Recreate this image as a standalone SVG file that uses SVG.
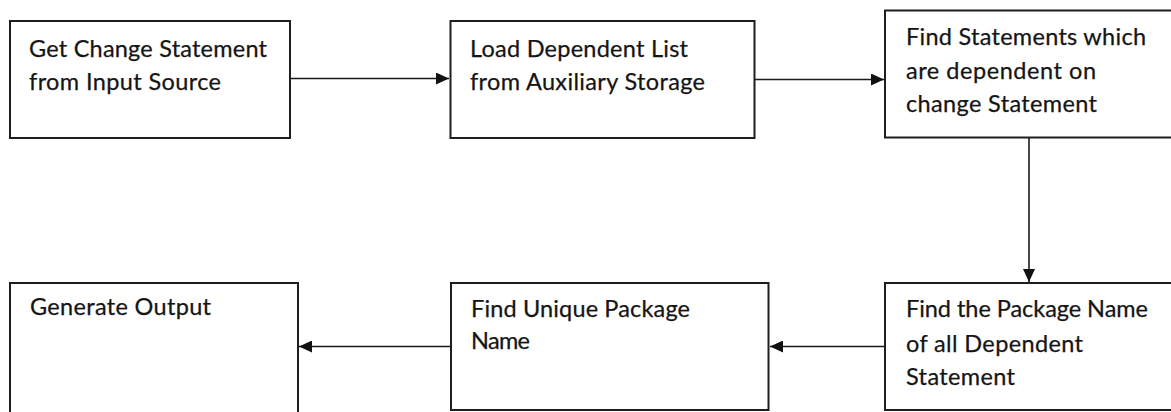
<svg xmlns="http://www.w3.org/2000/svg" width="1171" height="412" viewBox="0 0 1171 412">
  <style>
    .box { fill: #ffffff; stroke: #1e1e1e; stroke-width: 2; }
    .lbl { font-family: "Lato", "Open Sans", "Liberation Sans", sans-serif; font-size: 23.5px; fill: #151515; stroke: #151515; stroke-width: 0.25; }
    .edge { fill: none; stroke: #1a1a1a; stroke-width: 1.6; marker-end: url(#arrow); }
  </style>
  <defs>
    <marker id="arrow" markerUnits="userSpaceOnUse" markerWidth="14" markerHeight="12" refX="13" refY="6" orient="auto">
      <path d="M0,0 L13,6 L0,12 Z" fill="#111111"/>
    </marker>
  </defs>

  <rect width="1171" height="412" fill="#ffffff"/>

  <g id="connectors">
    <line class="edge" x1="291" y1="78.5" x2="449" y2="78.5"/>
    <line class="edge" x1="755" y1="79.5" x2="884" y2="79.5"/>
    <line class="edge" x1="1029" y1="138" x2="1029" y2="282"/>
    <line class="edge" x1="885" y1="346.5" x2="770" y2="346.5"/>
    <line class="edge" x1="450" y1="346.5" x2="299" y2="346.5"/>
  </g>

  <g id="get-change-statement">
    <rect class="box" x="10" y="21" width="280" height="117"/>
    <text class="lbl" x="29" y="57" textLength="238" lengthAdjust="spacing">Get Change Statement</text>
    <text class="lbl" x="29" y="90" textLength="192" lengthAdjust="spacing">from Input Source</text>
  </g>

  <g id="load-dependent-list">
    <rect class="box" x="450.5" y="21" width="304" height="117"/>
    <text class="lbl" x="470" y="57" textLength="218" lengthAdjust="spacing">Load Dependent List</text>
    <text class="lbl" x="470" y="90" textLength="235" lengthAdjust="spacing">from Auxiliary Storage</text>
  </g>

  <g id="find-dependent-statements">
    <rect class="box" x="885" y="10.5" width="300" height="127"/>
    <text class="lbl" x="906" y="45" textLength="240" lengthAdjust="spacing">Find Statements which</text>
    <text class="lbl" x="906" y="79" textLength="190" lengthAdjust="spacing">are dependent on</text>
    <text class="lbl" x="906" y="112" textLength="191" lengthAdjust="spacing">change Statement</text>
  </g>

  <g id="find-package-name">
    <rect class="box" x="885" y="283" width="300" height="127"/>
    <text class="lbl" x="906" y="317" textLength="242" lengthAdjust="spacing">Find the Package Name</text>
    <text class="lbl" x="906" y="352" textLength="177" lengthAdjust="spacing">of all Dependent</text>
    <text class="lbl" x="906" y="385" textLength="109" lengthAdjust="spacing">Statement</text>
  </g>

  <g id="find-unique-package">
    <rect class="box" x="451" y="283" width="317.5" height="127"/>
    <text class="lbl" x="471" y="317" textLength="219" lengthAdjust="spacing">Find Unique Package</text>
    <text class="lbl" x="471" y="349" textLength="59" lengthAdjust="spacing">Name</text>
  </g>

  <g id="generate-output">
    <rect class="box" x="10" y="283" width="288" height="140"/>
    <text class="lbl" x="30" y="315" textLength="181" lengthAdjust="spacing">Generate Output</text>
  </g>
</svg>
